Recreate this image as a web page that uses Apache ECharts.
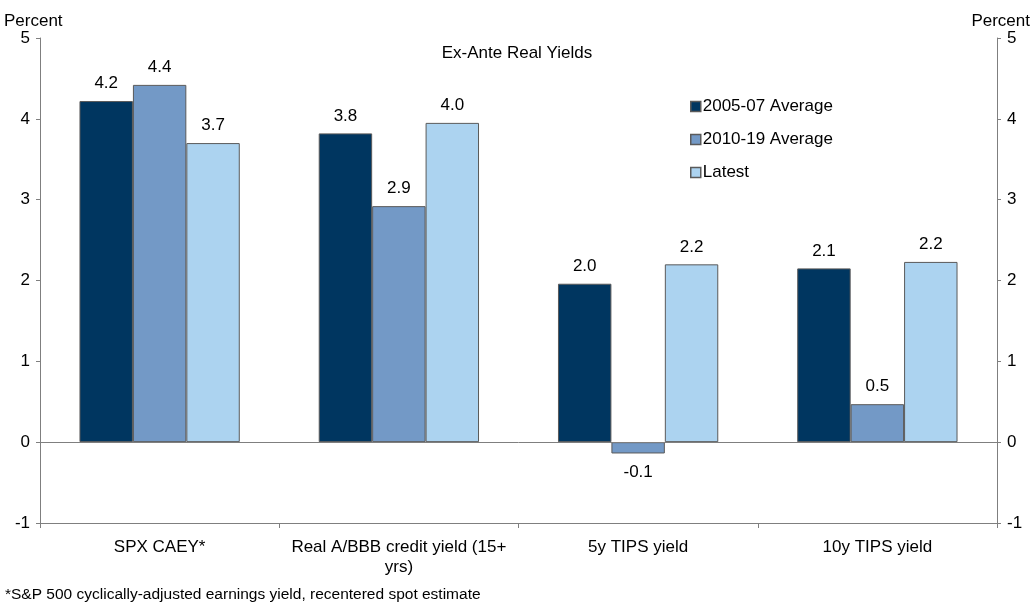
<!DOCTYPE html>
<html><head><meta charset="utf-8">
<script src="https://cdn.jsdelivr.net/npm/echarts@6/dist/echarts.min.js"></script>
<style>html,body{margin:0;padding:0;background:#fff}#c{width:1034px;height:604px}</style>
</head><body><div id="c"></div>
<script>
const categories = ['SPX CAEY*', 'Real A/BBB credit yield (15+\nyrs)', '5y TIPS yield', '10y TIPS yield'];
const seriesNames = ['2005-07 Average', '2010-19 Average', 'Latest'];
const avg0507 = [4.22, 3.82, 1.96, 2.15];
const avg1019 = [4.42, 2.92, -0.14, 0.47];
const latest = [3.70, 3.95, 2.20, 2.23];
const colors = ['#003660', '#7399c6', '#acd3f0'];
const yTicks = [-1, 0, 1, 2, 3, 4, 5];

const font = 'Liberation Sans, Arial, sans-serif';
const chart = echarts.init(document.getElementById('c'));
function mk(name, data, color, withZero) {
  const s = {
    name: name, type: 'bar', barGap: '0%', barCategoryGap: '33%',
    itemStyle: { color: color, borderColor: '#5a5a5a', borderWidth: 1 },
    label: { show: true, position: 'top', distance: 9, color: '#000', fontSize: 17, fontFamily: font,
      formatter: p => p.value.toFixed(1) },
    data: data.map(v => v < 0 ? { value: v, label: { position: 'bottom', distance: 10 } } : v)
  };
  if (withZero) {
    s.markLine = { silent: true, symbol: 'none', label: { show: false },
      lineStyle: { color: '#7f7f7f', type: 'solid', width: 1 }, data: [{ yAxis: 0 }] };
  }
  return s;
}
const yAx = (pos) => ({
  type: 'value', position: pos, min: yTicks[0], max: yTicks[yTicks.length - 1], interval: 1,
  axisLine: { show: true, lineStyle: { color: '#7f7f7f' } },
  axisTick: { show: true, length: 4, lineStyle: { color: '#7f7f7f' } },
  splitLine: { show: false },
  axisLabel: { color: '#000', fontSize: 17, fontFamily: font, margin: 10 }
});
chart.setOption({
  animation: false,
  grid: { left: 40, right: 37, top: 38, bottom: 81, containLabel: false },
  title: { text: 'Ex-Ante Real Yields', left: 'center', top: 40,
    textStyle: { fontSize: 17, fontWeight: 'normal', color: '#000', fontFamily: font } },
  graphic: [
    { type: 'text', left: 4, top: 13, style: { text: 'Percent', fontSize: 17, fill: '#000', fontFamily: font } },
    { type: 'text', right: 4, top: 13, style: { text: 'Percent', fontSize: 17, fill: '#000', fontFamily: font } },
    { type: 'text', left: 5, top: 587, style: { text: '*S&P 500 cyclically-adjusted earnings yield, recentered spot estimate', fontSize: 15.5, fill: '#000', fontFamily: font } }
  ],
  legend: { orient: 'vertical', left: 685, top: 93, itemGap: 16, itemWidth: 10, itemHeight: 10, icon: 'rect',
    itemStyle: { borderColor: '#5a5a5a', borderWidth: 1.5 },
    textStyle: { fontSize: 17, color: '#000', fontFamily: font, padding: [0, 0, 0, -3] }, data: seriesNames },
  xAxis: { type: 'category', data: categories,
    axisLine: { onZero: false, lineStyle: { color: '#7f7f7f' } },
    axisTick: { show: true, interval: 0, length: 5, lineStyle: { color: '#7f7f7f' } },
    axisLabel: { interval: 0, color: '#000', fontSize: 17, fontFamily: font, margin: 14, lineHeight: 20 } },
  yAxis: [yAx('left'), yAx('right')],
  series: [mk(seriesNames[0], avg0507, colors[0], true), mk(seriesNames[1], avg1019, colors[1]), mk(seriesNames[2], latest, colors[2])]
});
</script></body></html>
